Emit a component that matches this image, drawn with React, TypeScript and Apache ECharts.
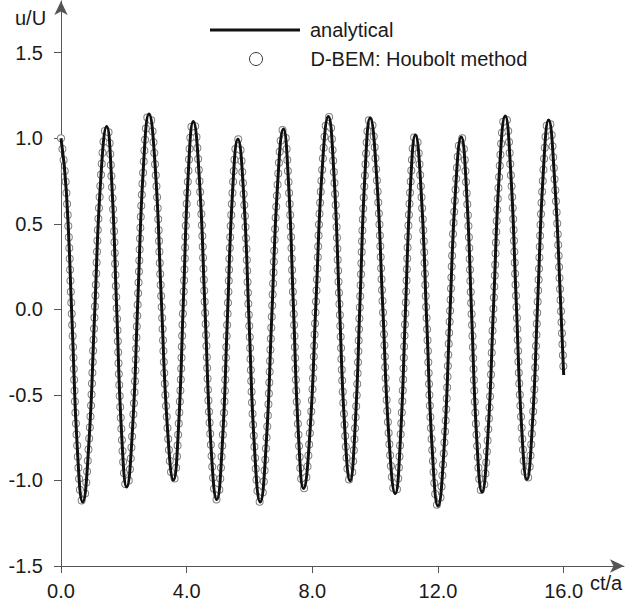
import React, { useEffect, useRef } from 'react';
import * as echarts from 'echarts';

// ct/a sample positions (extrema, zero crossings, quarter points)
const ctOverA = [
  0, 0.17, 0.35, 0.52, 0.69, 0.88, 1.07, 1.26, 1.455, 1.61, 1.77, 1.93, 2.09, 2.27, 2.445, 2.62,
  2.8, 3.0, 3.19, 3.385, 3.58, 3.74, 3.895, 4.05, 4.21, 4.4, 4.585, 4.77, 4.96, 5.13, 5.295, 5.46,
  5.63, 5.81, 5.985, 6.16, 6.34, 6.525, 6.71, 6.895, 7.08, 7.24, 7.4, 7.56, 7.72, 7.92, 8.115, 8.31,
  8.51, 8.68, 8.855, 9.03, 9.2, 9.36, 9.52, 9.68, 9.84, 10.04, 10.24, 10.44, 10.64, 10.8, 10.96, 11.12,
  11.28, 11.46, 11.64, 11.82, 12.0, 12.185, 12.37, 12.555, 12.74, 12.905, 13.07, 13.235, 13.4, 13.585, 13.77, 13.955,
  14.14, 14.31, 14.485, 14.66, 14.83, 15.0, 15.175, 15.35, 15.52, 15.71, 15.9, 16.0,
];

// u/U of the analytical solution at those positions
const analyticalU = [
  1.0, 0.689, -0.063, -0.815, -1.126, -0.805, -0.029, 0.747, 1.068, 0.76, 0.015, -0.73, -1.039, -0.72, 0.051, 0.822,
  1.141, 0.828, 0.072, -0.685, -0.998, -0.691, 0.05, 0.791, 1.098, 0.774, -0.007, -0.788, -1.112, -0.803, -0.058, 0.686,
  0.995, 0.684, -0.066, -0.815, -1.126, -0.807, -0.036, 0.735, 1.054, 0.746, 0.004, -0.739, -1.047, -0.729, 0.04, 0.809,
  1.127, 0.815, 0.062, -0.691, -1.003, -0.692, 0.058, 0.807, 1.118, 0.796, 0.02, -0.755, -1.077, -0.77, -0.029, 0.712,
  1.019, 0.701, -0.066, -0.832, -1.15, -0.834, -0.072, 0.691, 1.007, 0.703, -0.03, -0.764, -1.068, -0.746, 0.031, 0.808,
  1.13, 0.819, 0.068, -0.684, -0.995, -0.687, 0.056, 0.798, 1.106, 0.76, 0.05, -0.384,
];

// D-BEM (Houbolt) results coincide with the analytical curve at this scale
const dbemU = analyticalU.slice();

const xTickValues = [0, 4, 8, 12, 16];
const yTickValues = [-1.5, -1.0, -0.5, 0, 0.5, 1.0, 1.5];

const FONT = 'Arial, "Liberation Sans", Helvetica, sans-serif';
const AXIS_COLOR = '#555';
const TEXT_COLOR = '#1a1a1a';

export default function App() {
  const ref = useRef<HTMLDivElement>(null);

  useEffect(() => {
    document.body.style.margin = '0';
    const chart = echarts.init(ref.current!, null, { renderer: 'svg' });
    const analytical = ctOverA.map((t, i) => [t, analyticalU[i]]);
    const dbem = ctOverA.map((t, i) => [t, dbemU[i]]);

    chart.setOption({
      animation: false,
      backgroundColor: '#ffffff',
      grid: { left: 61, right: 3, top: 1, bottom: 43, outerBoundsMode: 'none' },
      xAxis: {
        type: 'value',
        min: 0,
        max: 17.92,
        axisLine: {
          show: true,
          onZero: false,
          symbol: ['none', 'arrow'],
          symbolSize: [10, 14],
          lineStyle: { color: AXIS_COLOR, width: 1 },
        },
        axisTick: { show: true, inside: false, length: 7, customValues: xTickValues, lineStyle: { color: AXIS_COLOR } },
        axisLabel: {
          customValues: xTickValues,
          formatter: (v: number) => v.toFixed(1),
          fontSize: 20,
          fontFamily: FONT,
          color: TEXT_COLOR,
          margin: 15,
        },
        splitLine: { show: false },
      },
      yAxis: {
        type: 'value',
        min: -1.5,
        max: 1.802,
        axisLine: {
          show: true,
          onZero: false,
          symbol: ['none', 'arrow'],
          symbolSize: [10, 14],
          lineStyle: { color: AXIS_COLOR, width: 1 },
        },
        axisTick: { show: true, inside: false, length: 7, customValues: yTickValues, lineStyle: { color: AXIS_COLOR } },
        axisLabel: {
          customValues: yTickValues,
          formatter: (v: number) => v.toFixed(1),
          fontSize: 20,
          fontFamily: FONT,
          color: TEXT_COLOR,
          margin: 18,
        },
        splitLine: { show: false },
      },
      legend: [
        {
          data: [{ name: 'analytical', icon: 'rect' }],
          left: 210,
          top: 18,
          padding: 0,
          itemWidth: 90,
          itemHeight: 3,
          selectedMode: false,
          formatter: (name: string) => '{g|}' + name,
          textStyle: { fontSize: 20, fontFamily: FONT, color: TEXT_COLOR, lineHeight: 24, rich: { g: { width: 5 } } },
        },
        {
          data: [
            {
              name: 'D-BEM: Houbolt method',
              icon: 'circle',
              itemStyle: { color: '#ffffff', borderColor: '#333333', borderWidth: 1 },
            },
          ],
          left: 249,
          top: 47,
          padding: 0,
          itemWidth: 13,
          itemHeight: 13,
          selectedMode: false,
          formatter: (name: string) => '{g|}' + name,
          textStyle: { fontSize: 20, fontFamily: FONT, color: TEXT_COLOR, lineHeight: 24, rich: { g: { width: 43 } } },
        },
      ],
      graphic: [
        {
          type: 'text',
          x: 15,
          y: 18,
          style: { text: 'u/U', fontSize: 20, fontFamily: FONT, fill: TEXT_COLOR, verticalAlign: 'middle' },
        },
        {
          type: 'text',
          x: 590,
          y: 583,
          style: { text: 'ct/a', fontSize: 20, fontFamily: FONT, fill: TEXT_COLOR, verticalAlign: 'middle' },
        },
      ],
      series: [
        {
          name: 'D-BEM: Houbolt method',
          type: 'line',
          data: dbem,
          smooth: true,
          symbol: 'none',
          lineStyle: { color: '#808080', width: 8, type: [0, 11], cap: 'round' },
          itemStyle: { color: '#808080' },
          z: 1,
        },
        {
          name: 'D-BEM inner',
          type: 'line',
          data: dbem,
          smooth: true,
          symbol: 'none',
          lineStyle: { color: '#ffffff', width: 6, type: [0, 11], cap: 'round' },
          itemStyle: { color: '#ffffff' },
          z: 1,
        },
        {
          name: 'analytical',
          type: 'line',
          data: analytical,
          smooth: true,
          symbol: 'none',
          lineStyle: { color: '#111111', width: 3 },
          itemStyle: { color: '#111111' },
          z: 2,
        },
      ],
    });

    return () => chart.dispose();
  }, []);

  return <div ref={ref} style={{ width: 627, height: 609 }} />;
}
